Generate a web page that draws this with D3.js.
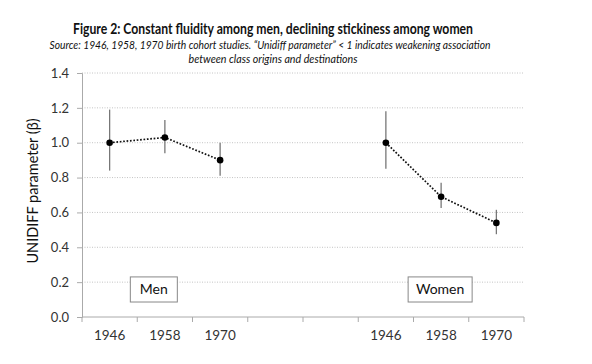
<!DOCTYPE html>
<html>
<head>
<meta charset="utf-8">
<script src="https://cdn.jsdelivr.net/npm/d3@7"></script>
<style>
  body { margin: 0; background: #fff; }
  svg text { font-family: Lato, "Open Sans", sans-serif; }
</style>
</head>
<body>
<div id="chart"></div>
<script>
// categories along the x axis (two empty gaps between men and women)
const slots = ["m1946", "m1958", "m1970", "gap1", "gap2", "w1946", "w1958", "w1970"];
const slotLabels = ["1946", "1958", "1970", "", "", "1946", "1958", "1970"];

const menCohorts = ["m1946", "m1958", "m1970"];
const menValues = [1.00, 1.03, 0.90];
const menLow = [0.84, 0.94, 0.81];
const menHigh = [1.19, 1.13, 1.00];

const womenCohorts = ["w1946", "w1958", "w1970"];
const womenValues = [1.00, 0.69, 0.54];
const womenLow = [0.85, 0.625, 0.475];
const womenHigh = [1.18, 0.77, 0.615];

const yTicks = [0, 0.2, 0.4, 0.6, 0.8, 1.0, 1.2, 1.4];

const W = 592, H = 364;
const margin = { top: 73, right: 68, bottom: 47, left: 82 };
const width = W - margin.left - margin.right,
  height = H - margin.top - margin.bottom;

const svg = d3.select("#chart").append("svg")
  .attr("width", W).attr("height", H);

// titles
svg.append("text")
  .attr("x", 273).attr("y", 34)
  .attr("text-anchor", "middle")
  .attr("textLength", 400).attr("lengthAdjust", "spacingAndGlyphs")
  .style("font-size", "14.5px").style("font-weight", "bold").attr("fill", "#111")
  .text("Figure 2: Constant fluidity among men, declining stickiness among women");
svg.append("text")
  .attr("x", 270).attr("y", 49)
  .attr("text-anchor", "middle")
  .attr("textLength", 441).attr("lengthAdjust", "spacingAndGlyphs")
  .style("font-size", "11.5px").style("font-style", "italic").attr("fill", "#111")
  .text("Source: 1946, 1958, 1970 birth cohort studies. \u201cUnidiff parameter\u201d < 1 indicates weakening association");
svg.append("text")
  .attr("x", 273).attr("y", 63)
  .attr("text-anchor", "middle")
  .attr("textLength", 169).attr("lengthAdjust", "spacingAndGlyphs")
  .style("font-size", "11.5px").style("font-style", "italic").attr("fill", "#111")
  .text("between class origins and destinations");

const g = svg.append("g")
  .attr("transform", "translate(" + margin.left + "," + margin.top + ")");

const x = d3.scaleBand().domain(slots).range([0, width]);
const y = d3.scaleLinear().domain([0, 1.4]).range([height, 0]);

// gridlines
g.selectAll(".grid")
  .data(yTicks.filter(d => d > 0))
  .enter().append("line")
  .attr("x1", 0).attr("x2", width)
  .attr("y1", d => y(d)).attr("y2", d => y(d))
  .attr("stroke", "#c4c4c4").attr("stroke-width", 1)
  .attr("stroke-dasharray", "1,1.5");

// y axis
const yAxis = g.append("g")
  .call(d3.axisLeft(y).tickValues(yTicks).tickFormat(d3.format(".1f")).tickSize(5).tickPadding(8));
yAxis.select(".domain").attr("stroke", "#aaa");
yAxis.selectAll(".tick line").attr("stroke", "#aaa");
yAxis.selectAll("text").style("font-size", "13px").attr("fill", "#333");

// x axis with ticks on band edges
const xAxis = g.append("g").attr("transform", "translate(0," + height + ")");
xAxis.append("line").attr("x1", 0).attr("x2", width).attr("stroke", "#aaa");
const edges = slots.map(s => x(s)).concat([width]);
xAxis.selectAll(".edge").data(edges).enter().append("line")
  .attr("x1", d => d).attr("x2", d => d).attr("y1", 0).attr("y2", 5)
  .attr("stroke", "#aaa");
xAxis.selectAll(".lbl").data(slots).enter().append("text")
  .attr("x", d => x(d) + x.bandwidth() / 2).attr("y", 23)
  .attr("text-anchor", "middle")
  .style("font-size", "13.5px").attr("fill", "#333")
  .text((d, i) => slotLabels[i]);

// y axis title
svg.append("text")
  .attr("transform", "translate(38," + (margin.top + height / 2 - 4) + ") rotate(-90)")
  .attr("text-anchor", "middle")
  .style("font-size", "14.5px").attr("fill", "#111")
  .text("UNIDIFF parameter (\u03b2)");

function drawSeries(cohorts, values, low, high) {
  const data = cohorts.map((c, i) => ({ c, v: values[i], lo: low[i], hi: high[i] }));
  const cx = d => x(d.c) + x.bandwidth() / 2;
  g.selectAll(null).data(data).enter().append("line")
    .attr("x1", cx).attr("x2", cx)
    .attr("y1", d => y(d.lo)).attr("y2", d => y(d.hi))
    .attr("stroke", "#777").attr("stroke-width", 1.3);
  g.append("path").datum(data)
    .attr("d", d3.line().x(cx).y(d => y(d.v)))
    .attr("fill", "none").attr("stroke", "#111")
    .attr("stroke-width", 1.7).attr("stroke-dasharray", "1.7,1.7");
  g.selectAll(null).data(data).enter().append("circle")
    .attr("cx", cx).attr("cy", d => y(d.v)).attr("r", 3.3)
    .attr("fill", "#000");
}
drawSeries(menCohorts, menValues, menLow, menHigh);
drawSeries(womenCohorts, womenValues, womenLow, womenHigh);

// group labels in boxes
function labelBox(text, cx, w) {
  const yTop = y(0.23), yBot = y(0.086);
  g.append("rect")
    .attr("x", cx - w / 2).attr("y", yTop)
    .attr("width", w).attr("height", yBot - yTop)
    .attr("fill", "#fff").attr("stroke", "#888").attr("stroke-width", 1);
  g.append("text")
    .attr("x", cx).attr("y", (yTop + yBot) / 2 + 5)
    .attr("text-anchor", "middle")
    .style("font-size", "14px").attr("fill", "#111")
    .text(text);
}
labelBox("Men", x("m1958") + x.bandwidth() * 0.3, 47);
labelBox("Women", x("w1958") + x.bandwidth() / 2 - 1, 64);
</script>
</body>
</html>
